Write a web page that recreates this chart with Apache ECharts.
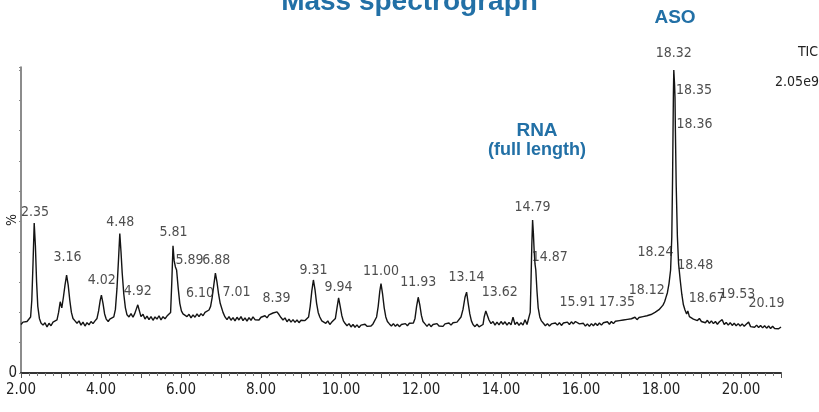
<!DOCTYPE html>
<html>
<head>
<meta charset="utf-8">
<script src="https://cdn.jsdelivr.net/npm/echarts@6/dist/echarts.min.js"></script>
<style>
  html, body { margin: 0; padding: 0; background: #fff; }
  #chart { width: 819px; height: 412px; }
</style>
</head>
<body>
<div id="chart"></div>
<script>
// ---- Data ----
// Total ion chromatogram trace: [retention time (min), relative intensity (%)]
const ticTrace = [
  [2.00,16.0],[2.05,16.8],[2.10,16.2],[2.15,17.0],[2.20,16.6],
  [2.24,18.5],[2.27,24],[2.30,36],[2.33,49.5],[2.36,42],[2.39,30],[2.42,22],[2.46,18],[2.50,16.5],
  [2.55,15.8],[2.60,16.6],[2.65,15.2],[2.70,16.4],[2.75,15.6],[2.80,16.8],[2.85,16.2],[2.90,17.5],
  [2.94,20],[2.98,23.5],[3.02,21.5],[3.06,25],[3.10,29],[3.14,32.3],[3.18,29],[3.22,24],[3.26,20],[3.30,18],[3.35,17.2],
  [3.40,16.4],[3.45,17.2],[3.50,15.8],[3.55,16.8],[3.60,15.5],[3.65,16.6],[3.70,15.9],[3.75,17.0],[3.80,16.3],[3.85,17.2],
  [3.90,18.0],[3.94,20.5],[3.98,24],[4.01,25.7],[4.05,23],[4.09,19.5],[4.13,17.8],[4.18,17.0],
  [4.22,17.8],[4.27,17.2],[4.32,18.5],
  [4.36,21],[4.40,28],[4.44,38],[4.47,46],[4.50,40],[4.53,33],[4.57,26],[4.61,21.5],[4.65,19.2],[4.70,18.5],[4.75,19.6],[4.80,18.4],[4.84,19.5],
  [4.88,21],[4.92,22.5],[4.96,20.5],[5.00,18.6],[5.05,19.4],[5.10,17.8],[5.15,18.8],[5.20,17.6],[5.25,18.6],[5.30,17.4],[5.35,18.5],[5.40,17.8],[5.45,18.9],[5.50,17.5],[5.55,18.6],[5.60,17.9],[5.65,18.8],[5.70,18.2],
  [5.74,20],[5.77,30],[5.80,42],[5.83,37],[5.86,35],[5.89,34],[5.93,28],[5.97,23],[6.01,20.5],[6.05,19.5],[6.10,20],[6.15,18.6],[6.20,19.4],[6.25,18.2],[6.30,19.2],[6.35,18.4],[6.40,19.5],[6.45,18.6],[6.50,19.6],[6.55,18.9],[6.60,20.0],[6.65,19.4],[6.70,20.8],
  [6.74,22],[6.78,25],[6.82,29],[6.86,33],[6.90,30],[6.94,26],[6.98,23],[7.01,22.5],[7.05,20],[7.10,18.5],[7.15,17.6],[7.20,18.6],[7.25,17.4],[7.30,18.3],[7.35,17.2],[7.40,18.4],[7.45,17.5],[7.50,18.6],[7.55,17.3],[7.60,18.2],[7.65,17.1],[7.70,18.3],[7.75,17.4],[7.80,18.5],[7.85,17.6],[7.90,18.2],[7.95,17.5],[8.00,18.4],[8.05,17.8],[8.10,18.9],[8.15,18.2],[8.20,19.2],
  [8.25,19.0],[8.30,19.8],[8.35,20.4],[8.40,20.2],[8.45,19.3],[8.50,18.3],[8.55,17.5],[8.60,18.2],[8.65,16.9],[8.70,17.8],[8.75,16.8],[8.80,17.6],[8.85,16.7],[8.90,17.5],[8.95,16.6],[9.00,17.4],[9.05,16.8],[9.10,17.3],[9.15,17.0],
  [9.19,18.5],[9.23,22],[9.27,27],[9.31,30.7],[9.35,27.5],[9.39,23],[9.43,20],[9.47,18.5],[9.52,17.2],[9.57,17.8],[9.62,16.4],[9.67,17.2],[9.72,16.0],[9.77,16.8],[9.82,16.2],
  [9.86,18],[9.90,21.5],[9.94,24.8],[9.98,22],[10.02,19],[10.06,17.2],[10.10,16.4],[10.15,15.6],[10.20,16.3],[10.25,15.2],[10.30,16.0],[10.35,15.1],[10.40,15.9],[10.45,15.0],[10.50,15.8],[10.55,15.2],[10.60,16.1],[10.65,15.4],[10.70,16.0],[10.75,15.5],[10.80,16.2],[10.85,16.6],
  [10.89,18.5],[10.93,22],[10.97,27],[11.00,29.5],[11.04,26],[11.08,21.5],[11.12,18.5],[11.16,17],[11.21,16.2],[11.26,15.5],[11.31,16.3],[11.36,15.4],[11.41,16.1],[11.46,15.3],[11.51,16.0],[11.56,15.5],[11.61,16.3],[11.66,15.6],[11.71,16.4],[11.76,15.8],[11.81,16.5],
  [11.85,18],[11.89,22],[11.93,25],[11.97,22.5],[12.01,19],[12.05,17],[12.10,16.2],[12.15,15.4],[12.20,16.2],[12.25,15.3],[12.30,16.0],[12.35,15.6],[12.40,16.3],[12.45,15.5],[12.50,16.1],[12.55,15.4],[12.60,16.2],[12.65,15.6],[12.70,16.5],[12.75,15.8],[12.80,16.6],[12.85,16.0],[12.90,16.8],[12.95,17.2],
  [13.00,18.5],[13.05,21],[13.10,25],[13.14,26.7],[13.18,23],[13.22,19.5],[13.26,17.2],[13.30,16.0],[13.35,15.3],[13.40,16.1],[13.45,15.2],[13.50,15.8],[13.55,16.0],
  [13.58,18.5],[13.62,20.5],[13.66,19],[13.70,17.5],[13.75,16.3],[13.80,17.0],[13.85,15.8],[13.90,16.8],[13.95,15.9],[14.00,17.0],[14.05,16.1],[14.10,16.9],[14.15,15.8],[14.20,16.7],[14.25,15.9],[14.30,18.4],[14.35,16.0],[14.40,16.8],[14.45,15.7],[14.50,16.6],[14.55,15.8],[14.60,17.6],[14.65,16.0],[14.70,16.6],
  [14.73,20],[14.75,30],[14.77,42],[14.79,50.5],[14.81,46],[14.83,40],[14.85,36],[14.87,34],[14.90,27],[14.93,21.5],[14.97,18.5],[15.01,17.2],[15.06,16.4],[15.11,15.6],[15.16,16.3],[15.21,15.5],[15.26,16.2],[15.31,15.6],[15.36,16.5],[15.41,15.8],[15.46,16.6],[15.51,15.7],[15.56,16.5],[15.61,15.9],[15.66,16.8],[15.71,16.0],[15.76,16.9],[15.81,16.2],[15.86,17.0],[15.91,17.6],[15.96,16.2],
  [16.01,15.6],[16.06,16.4],[16.11,15.5],[16.16,16.2],[16.21,15.4],[16.26,16.3],[16.31,15.6],[16.36,16.4],[16.41,15.7],[16.46,16.5],[16.51,15.8],[16.56,16.6],[16.61,16.0],[16.66,16.9],[16.71,16.1],[16.76,17.0],[16.81,16.3],[16.86,17.1],[16.91,16.5],[16.96,17.3],
  [17.01,16.7],[17.06,17.5],[17.11,16.9],[17.16,17.7],[17.21,17.1],[17.26,17.9],[17.31,17.3],[17.35,18.4],[17.40,17.6],[17.45,18.3],[17.50,17.7],[17.55,18.6],[17.60,18.0],[17.65,18.9],[17.70,18.4],[17.75,19.3],[17.80,19.0],[17.85,20.0],[17.90,19.8],[17.95,20.9],
  [18.00,21.2],[18.05,22.4],[18.09,23.5],[18.12,24.8],[18.16,26.5],[18.20,29.5],[18.24,34],[18.27,45],[18.29,65],[18.31,92],[18.32,100],[18.34,95],[18.35,91],[18.36,80],[18.38,62],[18.41,45],[18.44,36],[18.48,30.7],[18.52,26],[18.56,22.5],[18.60,20.8],[18.64,19.5],[18.67,20.5],[18.71,18.6],[18.76,18.9],[18.81,17.8],[18.86,18.4],[18.91,17.3],[18.96,18.0],
  [19.01,17.0],[19.06,17.6],[19.11,16.6],[19.16,17.4],[19.21,16.4],[19.26,17.2],[19.31,16.3],[19.36,17.0],[19.41,16.1],[19.46,16.9],[19.53,17.6],[19.58,16.0],[19.63,16.7],[19.68,15.8],[19.73,16.6],[19.78,15.7],[19.83,16.4],[19.88,15.6],[19.93,16.3],[19.98,15.5],
  [20.03,16.2],[20.08,15.4],[20.13,16.1],[20.19,16.8],[20.24,15.3],[20.29,15.9],[20.34,15.1],[20.39,15.8],[20.44,15.0],[20.49,15.7],[20.54,14.9],[20.59,15.6],[20.64,14.8],[20.69,15.5],[20.74,14.7],[20.79,15.4],[20.84,14.7],[20.89,15.3],[20.94,14.6],[21.00,15.2]
];

// Labelled peaks: retention time (min) and intensity (%) at the labelled point
const peakTimes = [2.35,3.16,4.02,4.48,4.92,5.81,5.89,6.10,6.88,7.01,8.39,9.31,9.94,11.00,11.93,13.14,13.62,14.79,14.87,15.91,17.35,18.12,18.24,18.32,18.35,18.36,18.48,18.67,19.53,20.19];
const peakHeights = [49.5,32.3,25.7,46,22.5,42,34,20,33,22.5,20.4,30.7,24.8,29.5,25,26.7,20.5,50.5,34,17.6,18.4,24.8,34,100,91,80,30.7,20.5,17.6,16.8];

// Axis tick labels
const xTickLabels = ['2.00','4.00','6.00','8.00','10.00','12.00','14.00','16.00','18.00','20.00'];
const yTickLabels = ['0'];

// Annotation texts
const chartTitle = 'Mass spectrograph';
const asoText = 'ASO';
const rnaText = ['RNA', '(full length)'];
const ticText = ['TIC', '2.05e9'];

// ---- Styling / layout (not data) ----
const labelShift = [[0,-11],[0,-18],[0,-15],[0,-11],[0,-13],[0,-13],[13,-10],[15,-19],[0,-13],[15,-12],[0,-13],[0,-10],[0,-11],[0,-12],[0,-15],[0,-15],[14,-19],[0,-13],[14,-13],[0,-17],[-18,-15],[-19,-8],[-15,-18],[0,-17],[19,-7],[19,-6],[15,-15],[19,-13],[15,-25],[18,-19]];
const narrowFont = '"Liberation Sans Narrow", "DejaVu Sans Condensed", "Arial Narrow", "Liberation Sans", sans-serif';
const boldFont = 'Arial, "Liberation Sans", sans-serif';
const blue = '#2270a6';

const chart = echarts.init(document.getElementById('chart'), null, { renderer: 'canvas' });

const peakData = peakTimes.map((t, i) => ({
  value: [t, peakHeights[i]],
  name: t.toFixed(2)
}));

chart.setOption({
  animation: false,
  backgroundColor: '#ffffff',
  grid: { left: 21, right: 38, top: 67, bottom: 39, outerBoundsMode: 'none', containLabel: false },
  xAxis: {
    type: 'value',
    min: 2, max: 21, interval: 1,
    axisLine: { show: true, lineStyle: { color: '#333', width: 2 } },
    axisTick: { show: true, length: 5, lineStyle: { color: '#555', width: 1 } },
    minorTick: { show: true, splitNumber: 5, length: 3, lineStyle: { color: '#777', width: 1 } },
    splitLine: { show: false },
    axisLabel: {
      margin: 10,
      color: '#222',
      fontSize: 15,
      fontFamily: narrowFont,
      showMaxLabel: false,
      formatter: v => { const s = v.toFixed(2); return xTickLabels.indexOf(s) >= 0 ? s : ''; }
    }
  },
  yAxis: {
    type: 'value',
    min: 0, max: 101, interval: 10,
    name: '%',
    nameLocation: 'middle',
    nameRotate: 90,
    nameGap: 2,
    nameMoveOverlap: false,
    nameTextStyle: { color: '#222', fontSize: 14, fontFamily: narrowFont },
    axisLine: { show: true, lineStyle: { color: '#666', width: 1.5 } },
    axisTick: { show: true, length: 2, lineStyle: { color: '#888' } },
    splitLine: { show: false },
    axisLabel: {
      margin: 4,
      color: '#222',
      fontSize: 15,
      fontFamily: narrowFont,
      formatter: v => (yTickLabels.indexOf(String(v)) >= 0 ? String(v) : '')
    }
  },
  series: [
    {
      type: 'line',
      name: 'TIC',
      data: ticTrace,
      showSymbol: false,
      symbol: 'none',
      lineStyle: { color: '#141414', width: 1.4 },
      z: 2
    },
    {
      type: 'scatter',
      name: 'peaks',
      data: peakData,
      symbolSize: 0,
      label: {
        show: true,
        position: 'inside',
        formatter: p => p.name,
        color: '#222',
        fontSize: 14,
        fontFamily: narrowFont
      },
      labelLayout: p => ({ dx: labelShift[p.dataIndex][0], dy: labelShift[p.dataIndex][1] }),
      z: 3
    }
  ],
  graphic: [
    { type: 'text', left: 'center', top: -12, style: { text: chartTitle, fill: blue, font: 'bold 28px ' + boldFont } },
    { type: 'text', x: 675, y: 18, style: { text: asoText, fill: blue, font: 'bold 19px ' + boldFont, align: 'center', verticalAlign: 'middle' } },
    { type: 'text', x: 537, y: 131, style: { text: rnaText[0], fill: blue, font: 'bold 19px ' + boldFont, align: 'center', verticalAlign: 'middle' } },
    { type: 'text', x: 537, y: 150, style: { text: rnaText[1], fill: blue, font: 'bold 18px ' + boldFont, align: 'center', verticalAlign: 'middle' } },
    { type: 'text', x: 808, y: 52, style: { text: ticText[0], fill: '#222', font: '14px ' + narrowFont, align: 'center', verticalAlign: 'middle' } },
    { type: 'text', x: 797, y: 82, style: { text: ticText[1], fill: '#222', font: '14px ' + narrowFont, align: 'center', verticalAlign: 'middle' } }
  ]
});
</script>
</body>
</html>
